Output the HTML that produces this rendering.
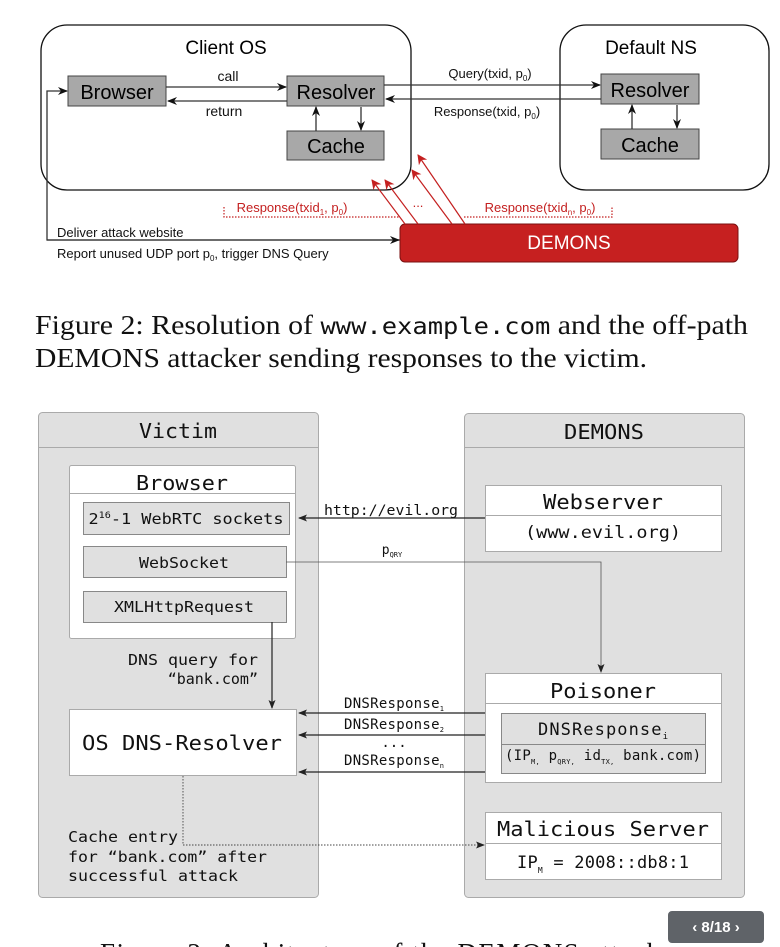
<!DOCTYPE html>
<html><head><meta charset="utf-8"><style>
html,body{margin:0;padding:0;background:#fff;}
svg{display:block;}
.s{font-family:"Liberation Sans",sans-serif;}
.m{font-family:"DejaVu Sans Mono","Liberation Mono",monospace;}
.r{font-family:"Liberation Serif",serif;}
</style></head><body>
<svg width="780" height="947" viewBox="0 0 780 947" xmlns="http://www.w3.org/2000/svg">
<defs>
<marker id="ab" markerWidth="10" markerHeight="8" refX="9" refY="4" orient="auto" markerUnits="userSpaceOnUse"><path d="M0,0 L10,4 L0,8 L3,4z" fill="#111"/></marker>
<marker id="ar" markerWidth="10" markerHeight="10" refX="9" refY="5" orient="auto" markerUnits="userSpaceOnUse"><path d="M0,0 L10,5 L0,10 L3,5z" fill="#c42020"/></marker>
<marker id="ag" markerWidth="9" markerHeight="7" refX="8" refY="3.5" orient="auto" markerUnits="userSpaceOnUse"><path d="M0,0 L9,3.5 L0,7 L2,3.5z" fill="#222"/></marker>
</defs>
<rect x="41" y="25" width="370" height="165" rx="26" fill="#fff" stroke="#111" stroke-width="1.3"/>
<rect x="560" y="25" width="209" height="165" rx="26" fill="#fff" stroke="#111" stroke-width="1.3"/>
<text class="s" x="226" y="54" font-size="19" text-anchor="middle">Client OS</text>
<text class="s" x="651" y="54" font-size="19" text-anchor="middle">Default NS</text>
<g class="s" font-size="20" text-anchor="middle">
<rect x="68" y="76" width="98" height="30" fill="#a8a8a8" stroke="#444"/><text x="117" y="99">Browser</text>
<rect x="287" y="76" width="97" height="30" fill="#a8a8a8" stroke="#444"/><text x="336" y="99">Resolver</text>
<rect x="287" y="131" width="97" height="29" fill="#a8a8a8" stroke="#444"/><text x="336" y="153">Cache</text>
<rect x="601" y="74" width="98" height="30" fill="#a8a8a8" stroke="#444"/><text x="650" y="97">Resolver</text>
<rect x="601" y="129" width="98" height="30" fill="#a8a8a8" stroke="#444"/><text x="650" y="152">Cache</text>
</g>
<g stroke="#333" stroke-width="1.3" fill="none">
<line x1="166" y1="87" x2="286" y2="87" marker-end="url(#ab)"/>
<line x1="287" y1="101" x2="168" y2="101" marker-end="url(#ab)"/>
<line x1="316" y1="131" x2="316" y2="107" marker-end="url(#ab)"/>
<line x1="361" y1="107" x2="361" y2="130" marker-end="url(#ab)"/>
<line x1="384" y1="85" x2="600" y2="85" marker-end="url(#ab)"/>
<line x1="601" y1="99" x2="386" y2="99" marker-end="url(#ab)"/>
<line x1="632" y1="129" x2="632" y2="105" marker-end="url(#ab)"/>
<line x1="677" y1="105" x2="677" y2="128" marker-end="url(#ab)"/>
<polyline points="400,240 47,240 47,91 67,91" marker-end="url(#ab)"/>
<line x1="47" y1="240" x2="399" y2="240" marker-end="url(#ab)"/>
</g>
<g class="s" font-size="14" text-anchor="middle" fill="#111">
<text x="228" y="81">call</text>
<text x="224" y="116">return</text>
<text x="490" y="78" font-size="13">Query(txid, p<tspan font-size="8" dy="3">0</tspan><tspan dy="-3">)</tspan></text>
<text x="487" y="116" font-size="13">Response(txid, p<tspan font-size="8" dy="3">0</tspan><tspan dy="-3">)</tspan></text>
</g>
<g class="s" font-size="13" fill="#111">
<text x="57" y="237">Deliver attack website</text>
<text x="57" y="258">Report unused UDP port p<tspan font-size="8" dy="3">0</tspan><tspan dy="-3">, trigger DNS Query</tspan></text>
</g>
<rect x="400" y="224" width="338" height="38" rx="5" fill="#c62020" stroke="#7a1010"/>
<text class="s" x="569" y="249" font-size="19" fill="#fff" text-anchor="middle">DEMONS</text>
<g stroke="#c42020" stroke-width="1.2" fill="none">
<line x1="405" y1="224" x2="372" y2="180" marker-end="url(#ar)"/>
<line x1="418" y1="224" x2="385" y2="180" marker-end="url(#ar)"/>
<line x1="452" y1="224" x2="412" y2="170" marker-end="url(#ar)"/>
<line x1="465" y1="224" x2="418" y2="155" marker-end="url(#ar)"/>
<polyline points="224,207 224,217 400,217" stroke-dasharray="1.5,1.5"/>
<polyline points="464,217 612,217 612,207" stroke-dasharray="1.5,1.5"/>
</g>
<g class="s" font-size="13" fill="#c42020" text-anchor="middle">
<text x="292" y="212">Response(txid<tspan font-size="8" dy="3">1</tspan><tspan dy="-3">, p</tspan><tspan font-size="8" dy="3">0</tspan><tspan dy="-3">)</tspan></text>
<text x="418" y="207">...</text>
<text x="540" y="212">Response(txid<tspan font-size="8" dy="3">n</tspan><tspan dy="-3">, p</tspan><tspan font-size="8" dy="3">0</tspan><tspan dy="-3">)</tspan></text>
</g>
<g class="r" font-size="27" fill="#111">
<text x="35" y="334" textLength="713" lengthAdjust="spacingAndGlyphs">Figure 2: Resolution of <tspan class="m" font-size="23">www.example.com</tspan> and the off-path</text>
<text x="35" y="367" textLength="612" lengthAdjust="spacingAndGlyphs">DEMONS attacker sending responses to the victim.</text>
<text x="100" y="962" textLength="560">Figure 3: Architecture of the DEMONS attack</text>
</g>
<rect x="38.5" y="412.5" width="280" height="485" rx="4" fill="#e0e0e0" stroke="#aaa"/>
<line x1="38.5" y1="447.5" x2="318.5" y2="447.5" stroke="#aaa"/>
<rect x="464.5" y="413.5" width="280" height="484" rx="4" fill="#e0e0e0" stroke="#aaa"/>
<line x1="464.5" y1="447.5" x2="744.5" y2="447.5" stroke="#aaa"/>
<g fill="#fff" stroke="#aaa">
<rect x="69.5" y="465.5" width="226" height="173" rx="2"/>
<rect x="485.5" y="485.5" width="236" height="66"/>
<rect x="485.5" y="673.5" width="236" height="109"/>
<rect x="485.5" y="812.5" width="236" height="67"/>
<rect x="69.5" y="709.5" width="227" height="66"/>
</g>
<g stroke="#aaa">
<line x1="69.5" y1="493.5" x2="295.5" y2="493.5"/>
<line x1="485.5" y1="515.5" x2="721.5" y2="515.5"/>
<line x1="485.5" y1="703.5" x2="721.5" y2="703.5"/>
<line x1="485.5" y1="843.5" x2="721.5" y2="843.5"/>
</g>
<g fill="#e0e0e0" stroke="#888">
<rect x="83.5" y="502.5" width="206" height="32"/>
<rect x="83.5" y="546.5" width="203" height="31"/>
<rect x="83.5" y="591.5" width="203" height="31"/>
<rect x="501.5" y="713.5" width="204" height="60"/>
</g>
<line x1="501.5" y1="744.5" x2="705.5" y2="744.5" stroke="#888"/>
<g class="m" fill="#111" text-anchor="middle">
<text x="178" y="438" font-size="20" textLength="78" lengthAdjust="spacingAndGlyphs">Victim</text>
<text x="604" y="439" font-size="20" textLength="80" lengthAdjust="spacingAndGlyphs">DEMONS</text>
<text x="182" y="490" font-size="20" textLength="92" lengthAdjust="spacingAndGlyphs">Browser</text>
<text x="186" y="524" font-size="15" textLength="195" lengthAdjust="spacingAndGlyphs">2<tspan font-size="9" dy="-6">16</tspan><tspan dy="6">-1 WebRTC sockets</tspan></text>
<text x="184" y="568" font-size="15" textLength="90" lengthAdjust="spacingAndGlyphs">WebSocket</text>
<text x="184" y="612" font-size="15" textLength="140" lengthAdjust="spacingAndGlyphs">XMLHttpRequest</text>
<text x="603" y="509" font-size="20" textLength="120" lengthAdjust="spacingAndGlyphs">Webserver</text>
<text x="603" y="538" font-size="17" textLength="156" lengthAdjust="spacingAndGlyphs">(www.evil.org)</text>
<text x="603" y="698" font-size="20" textLength="106" lengthAdjust="spacingAndGlyphs">Poisoner</text>
<text x="603" y="735" font-size="17" textLength="130">DNSResponse<tspan font-size="9" dy="4">i</tspan></text>
<text x="603" y="760" font-size="14" textLength="196">(IP<tspan font-size="7" dy="4">M,</tspan><tspan dy="-4"> p</tspan><tspan font-size="7" dy="4">QRY,</tspan><tspan dy="-4"> id</tspan><tspan font-size="7" dy="4">TX,</tspan><tspan dy="-4"> bank.com)</tspan></text>
<text x="603" y="836" font-size="20" textLength="212" lengthAdjust="spacingAndGlyphs">Malicious Server</text>
<text x="603" y="868" font-size="17" textLength="172">IP<tspan font-size="8" dy="5">M</tspan><tspan dy="-5"> = 2008::db8:1</tspan></text>
<text x="182" y="750" font-size="20" textLength="200" lengthAdjust="spacingAndGlyphs">OS DNS-Resolver</text>
<text x="391" y="515" font-size="14" textLength="134" lengthAdjust="spacingAndGlyphs">http://evil.org</text>
<text x="392" y="554" font-size="13">p<tspan font-size="7" dy="3">QRY</tspan></text>
<text x="394" y="708" font-size="14" textLength="100">DNSResponse<tspan font-size="7" dy="3">1</tspan></text>
<text x="394" y="729" font-size="14" textLength="100">DNSResponse<tspan font-size="7" dy="3">2</tspan></text>
<text x="394" y="747" font-size="14">...</text>
<text x="394" y="765" font-size="14" textLength="100">DNSResponse<tspan font-size="7" dy="3">n</tspan></text>
</g>
<g class="m" fill="#111" font-size="15">
<text x="258" y="665" text-anchor="end" textLength="130" lengthAdjust="spacingAndGlyphs">DNS query for</text>
<text x="258" y="684" text-anchor="end">“bank.com”</text>
<text x="68" y="842" textLength="110" lengthAdjust="spacingAndGlyphs">Cache entry</text>
<text x="68" y="862" textLength="199" lengthAdjust="spacingAndGlyphs">for “bank.com” after</text>
<text x="68" y="881" textLength="170" lengthAdjust="spacingAndGlyphs">successful attack</text>
</g>
<g stroke="#222" stroke-width="1.2" fill="none">
<line x1="485" y1="518" x2="299" y2="518" marker-end="url(#ag)"/>
<line x1="485" y1="713" x2="299" y2="713" marker-end="url(#ag)"/>
<line x1="485" y1="735" x2="299" y2="735" marker-end="url(#ag)"/>
<line x1="485" y1="772" x2="299" y2="772" marker-end="url(#ag)"/>
<line x1="272" y1="622" x2="272" y2="708" marker-end="url(#ag)"/>
</g>
<polyline points="286,562 601,562 601,672" stroke="#555" stroke-width="0.8" fill="none" marker-end="url(#ag)"/>
<polyline points="183,776 183,845 484,845" stroke="#444" stroke-width="0.9" stroke-dasharray="1.5,1.5" fill="none" marker-end="url(#ag)"/>
<rect x="668" y="911" width="96" height="32" rx="4" fill="#5f6368"/>
<text class="s" x="716" y="932" font-size="15" font-weight="bold" fill="#fff" text-anchor="middle">‹  8/18  ›</text>
</svg>
</body></html>
